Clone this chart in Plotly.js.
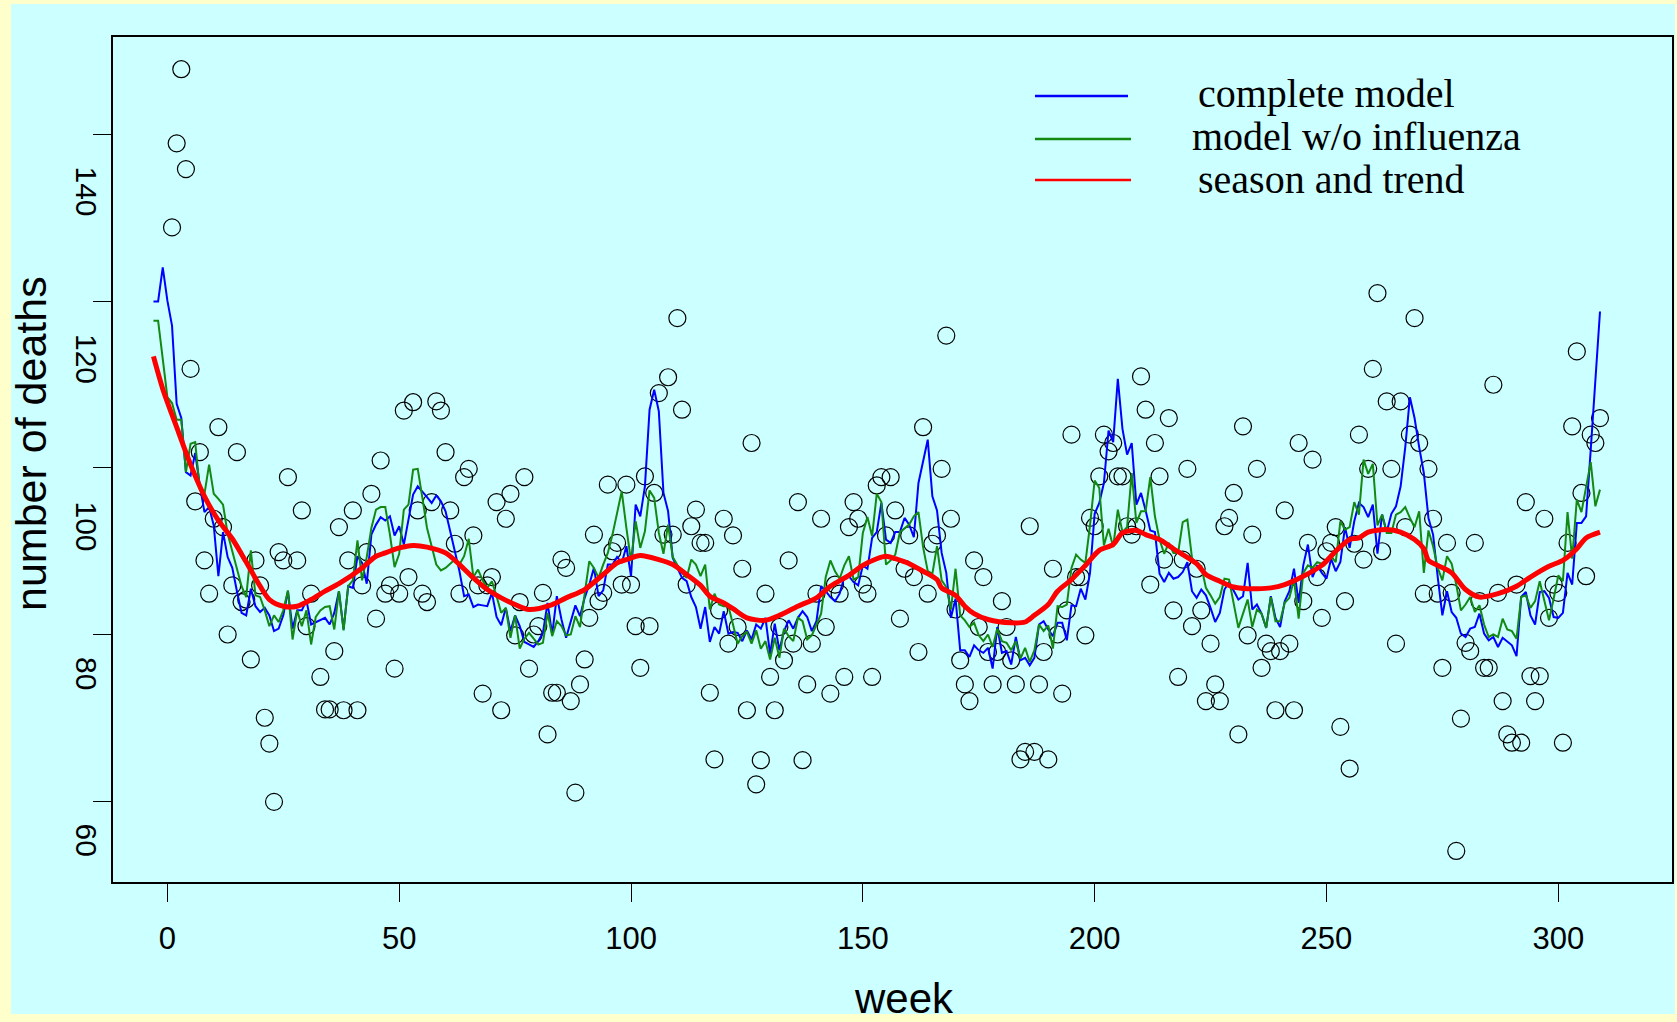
<!DOCTYPE html>
<html>
<head>
<meta charset="utf-8">
<script src="https://cdn.plot.ly/plotly-3.0.1.min.js"></script>
<style>html,body{margin:0;padding:0;background:#ffffcc;}</style>
</head>
<body>
<div id="chart" style="width:1677px;height:1022px;"></div>
<script>
// ---- data ----
// observed weekly deaths, weeks 1..309 (null = not visible)
const observed = [
128.9,139.0,147.9,135.9,111.9,96.0,101.9,88.9,84.9,93.9,
104.9,92.9,80.0,85.9,101.9,83.9,84.2,77.0,88.9,85.9,
70.0,66.9,59.9,89.9,88.9,98.9,null,88.9,94.9,81.0,
84.9,null,74.9,71.0,71.0,78.0,92.9,70.9,88.9,94.9,
70.9,85.9,89.9,96.9,81.9,100.9,84.9,85.9,75.9,84.9,
106.9,86.9,107.9,94.9,84.9,83.9,95.9,108.0,106.9,101.9,
94.9,90.9,84.9,98.9,99.9,91.9,85.9,72.9,85.9,86.9,
95.9,70.9,93.9,96.9,79.9,83.9,98.9,75.9,80.0,81.0,
85.0,68.0,73.0,73.0,89.0,88.0,72.0,61.0,74.0,77.0,
82.0,92.0,84.0,85.0,98.0,90.0,91.0,86.0,98.0,86.0,
81.0,76.0,99.0,81.0,97.0,109.0,92.0,110.9,92.0,118.0,
107.0,86.0,93.0,95.0,91.0,91.0,73.0,65.0,82.9,93.9,
78.9,91.9,80.9,87.9,70.9,103.0,62.0,64.9,84.9,74.9,
70.9,80.9,76.9,88.9,78.9,95.9,64.9,74.0,78.9,84.9,
93.9,80.9,72.9,86.0,84.9,74.9,92.9,95.9,93.9,86.0,
84.9,74.9,97.9,98.9,91.9,98.9,94.9,81.9,87.9,91.9,
86.9,77.9,104.9,84.9,90.9,91.9,99.9,115.9,93.9,83.0,
76.9,74.0,72.0,88.9,80.9,86.9,77.9,74.0,77.9,84.0,
80.9,76.9,74.0,65.0,65.9,93.0,65.9,74.0,77.9,65.0,
87.9,80.0,72.9,82.9,104.0,86.9,86.9,79.9,94.0,93.0,
99.0,104.0,102.0,103.0,99.0,99.0,93.0,92.0,93.0,111.0,
107.0,86.0,103.0,99.0,89.0,106.0,82.9,74.9,89.0,99.9,
81.0,87.9,82.9,72.0,78.9,74.0,72.0,93.0,94.0,97.0,
68.0,105.0,79.9,92.0,99.9,76.0,78.9,78.0,70.9,78.0,
94.9,78.9,70.9,103.0,84.0,91.0,101.0,86.9,82.0,90.0,
91.0,92.9,68.9,84.0,63.9,90.9,104.0,89.0,99.9,111.9,
121.0,90.0,108.0,99.9,78.9,108.0,92.9,104.0,118.0,103.0,
84.9,99.9,93.9,84.9,76.0,91.0,85.0,54.0,69.9,79.0,
78.0,91.0,84.0,76.0,76.0,110.0,85.0,72.0,68.0,67.0,
86.0,67.0,95.9,75.0,72.0,75.0,93.9,82.0,86.0,85.0,
67.0,91.0,105.0,114.0,97.0,87.0,104.0,103.0,106.0
];
const observedFirstWeek = 1;

// complete model, weeks -3..309
const completeModel = [
120.0,120.0,124.1,120.1,117.1,107.7,106.0,99.5,99.1,101.8,
97.9,94.7,95.3,93.1,87.0,92.3,89.3,88.0,85.2,82.6,
82.3,85.5,83.4,82.7,83.2,82.3,80.4,80.7,82.3,85.2,
80.7,82.9,82.9,84.1,81.2,81.5,81.7,82.0,81.2,82.6,
85.2,80.6,85.8,85.6,89.4,88.6,86.1,92.0,93.2,94.1,
93.7,94.2,91.9,93.0,90.8,93.6,96.8,97.8,97.2,96.5,
95.8,96.7,96.0,94.8,92.4,90.0,87.6,84.6,84.8,83.3,
83.6,83.5,83.4,85.0,82.1,81.1,83.2,80.4,82.3,81.0,
79.1,78.8,78.5,79.2,80.2,83.8,80.0,84.6,81.8,79.6,
81.4,83.5,82.2,84.4,86.0,88.0,84.6,85.3,88.4,88.4,
89.3,88.6,90.6,87.0,95.6,94.2,97.8,107.0,109.4,106.8,
97.0,94.8,89.2,88.0,86.8,86.4,84.5,83.3,80.7,83.3,
79.1,80.9,80.1,82.8,80.1,80.3,80.2,79.2,80.5,79.4,
81.2,80.7,82.0,77.6,81.3,78.1,80.4,81.7,80.7,82.0,
82.8,82.1,80.4,81.6,85.8,85.2,84.5,84.0,84.9,86.9,
87.0,86.3,85.9,88.3,87.9,91.6,92.3,95.8,91.4,91.0,
92.3,92.3,94.0,93.2,91.7,98.2,100.9,103.4,96.6,94.9,
89.8,87.4,82.0,84.3,78.1,78.1,77.3,78.7,78.1,77.8,
78.4,75.9,80.9,77.8,78.0,76.4,79.7,76.9,77.2,76.3,
77.2,81.2,81.6,80.6,79.8,81.4,81.4,79.3,83.5,83.4,
85.5,84.2,87.4,94.5,95.8,98.2,104.5,103.1,110.7,104.7,
101.6,103.0,95.6,97.0,94.9,92.5,92.3,87.3,86.3,87.4,
86.7,86.9,87.5,88.7,85.2,84.4,85.4,84.7,83.2,81.5,
82.6,85.4,86.3,85.2,84.2,84.6,88.6,83.0,83.6,82.5,
80.8,84.6,82.0,80.9,84.0,85.2,87.9,83.8,88.3,90.8,
86.9,88.3,87.4,86.7,89.1,87.6,88.7,92.9,90.4,93.6,
95.8,95.3,94.1,95.6,89.7,94.4,92.3,94.5,95.4,97.8,
102.5,108.5,106.0,102.5,99.4,94.0,92.0,86.9,82.3,85.2,
82.7,82.0,80.1,79.7,80.7,80.9,82.5,80.1,79.3,79.7,
78.5,79.6,79.2,78.7,77.4,84.5,85.1,82.3,81.2,85.1,
85.2,84.4,82.1,82.0,82.6,87.4,86.0,93.4,93.4,94.2,
102.2,110.5,118.8
];

// model without influenza, weeks -3..309
const noFluModel = [
117.7,117.7,113.1,108.5,107.8,105.8,105.8,99.5,102.9,103.1,
97.4,96.9,100.4,96.9,96.3,95.6,92.1,89.9,87.7,85.8,
84.5,90.1,84.7,84.5,82.9,81.0,82.3,81.5,82.9,85.3,
79.4,82.9,81.0,82.9,78.8,82.1,82.9,83.3,83.4,80.6,
85.2,80.5,85.8,86.5,91.3,86.5,89.3,92.8,95.0,95.3,
95.3,92.0,88.1,89.7,95.0,95.6,99.8,99.9,96.4,92.8,
90.6,88.4,87.7,88.0,88.5,89.0,88.4,89.4,91.5,86.9,
87.8,86.5,85.6,86.4,84.6,82.6,83.2,79.6,82.3,78.3,
79.5,80.2,79.5,78.8,79.0,82.6,79.8,81.6,81.0,79.9,
80.0,82.2,80.9,84.8,88.8,88.0,86.8,88.4,89.8,92.0,
94.4,97.2,92.8,88.8,93.6,90.4,92.4,97.3,96.4,92.2,
89.7,93.2,89.3,88.4,87.4,86.8,89.0,88.4,87.0,88.4,
83.0,84.9,83.6,83.4,83.4,81.2,78.9,79.8,80.3,78.9,
80.5,78.3,79.2,77.0,79.6,77.2,80.7,79.8,79.2,82.0,
81.6,79.4,79.9,81.2,82.5,86.9,88.9,87.6,86.7,88.3,
89.4,86.6,86.9,92.2,94.1,91.8,96.9,95.9,88.4,88.9,
89.6,92.3,92.7,93.2,94.2,94.7,90.5,87.6,87.3,90.6,
86.5,85.7,83.0,87.9,82.3,81.7,80.9,81.4,79.9,79.2,
80.0,78.5,80.7,79.2,79.0,78.1,79.2,77.1,78.4,76.7,
78.1,81.2,80.4,81.1,78.3,83.4,83.3,83.6,88.0,89.6,
89.0,88.6,93.1,98.5,97.6,90.7,92.7,90.5,95.0,92.3,
92.9,99.4,93.4,94.8,94.8,98.9,94.2,91.4,89.7,91.0,
89.8,89.8,93.5,93.8,89.2,88.3,88.2,85.6,84.7,83.7,
84.5,86.7,86.6,83.8,80.8,82.5,84.2,80.9,83.0,82.5,
80.8,84.5,81.6,81.6,83.8,84.4,86.6,81.9,87.4,88.3,
88.0,88.7,88.5,88.6,89.4,88.7,93.6,92.6,92.9,95.9,
94.4,101.0,99.3,100.5,93.1,94.4,92.2,92.2,94.4,94.7,
95.3,94.0,92.9,94.8,87.4,92.5,90.6,88.0,86.5,89.4,
88.5,86.0,82.9,83.6,84.5,82.7,83.5,81.2,79.7,80.0,
79.7,81.9,80.6,80.4,79.5,84.5,84.7,83.2,84.0,86.4,
83.9,81.7,84.3,87.1,86.4,94.7,89.1,96.2,94.7,97.6,
100.7,95.4,97.4
];
const modelFirstWeek = -3;

// season and trend (smooth curve), read at these weeks
const trendWeeks = [-3,-1,2,5,8,11,14,17,20,22,25,28,31,34,37,42,45,47,50,53,56,60,63,66,69,72,75,78,83,86,90,94,97,99,102,106,109,112,115,117,120,122,125,129,132,136,140,143,147,150,153,155,157,160,163,166,167,170,172,174,177,182,185,187,190,192,195,198,201,204,206,209,211,214,217,219,222,224,227,230,233,235,238,241,245,249,252,255,257,259,263,266,269,271,272,274,277,280,283,287,291,294,298,301,304,306,309];
const trendValues = [113.4,109.5,104.9,100.4,96.6,93.7,91.5,88.7,85.8,84.2,83.4,83.4,84.2,85.2,86.1,88.0,89.4,89.8,90.4,90.7,90.5,89.8,88.4,86.8,85.4,84.4,83.6,83.0,83.6,84.4,85.4,87.2,88.6,89.0,89.5,89.0,88.4,87.2,85.9,84.6,83.8,83.1,82.0,81.7,82.3,83.4,84.4,85.8,87.1,88.3,89.1,89.4,89.1,88.5,87.6,86.6,85.6,84.7,83.4,82.5,81.8,81.4,81.5,82.3,83.6,85.2,86.6,88.3,90.1,90.8,92.2,92.5,92.0,91.4,90.3,89.6,88.5,87.2,86.4,85.7,85.5,85.5,85.6,86.0,87.0,88.3,90.0,91.4,91.6,92.3,92.6,92.3,91.4,90.3,88.9,88.3,87.4,85.4,84.5,84.9,85.8,86.9,88.2,88.9,90.3,91.6,92.3];

const xTickVals = [0, 50, 100, 150, 200, 250, 300];
const yTickVals = [60, 80, 100, 120, 140];
const yTickLabels = ['60', '80', '100', '120', '140'];
const seriesNames = ['complete model', 'model w/o influenza', 'season and trend'];
const seriesColors = ['#0000ff', '#138913', '#ff0000'];
const xTitle = 'week';
const yTitle = 'number of deaths';

// ---- build ----
const observedWeeks = observed.map((_, i) => observedFirstWeek + i);
const modelWeeks = completeModel.map((_, i) => modelFirstWeek + i);

const traces = [
  {type:'scatter', mode:'markers', name:'observed', x:observedWeeks, y:observed,
   marker:{symbol:'circle-open', size:17, color:'#000000', line:{width:1.2, color:'#000000'}},
   hoverinfo:'x+y'},
  {type:'scatter', mode:'lines', name:seriesNames[0], x:modelWeeks, y:completeModel,
   line:{color:seriesColors[0], width:2}},
  {type:'scatter', mode:'lines', name:seriesNames[1], x:modelWeeks, y:noFluModel,
   line:{color:seriesColors[1], width:2}},
  {type:'scatter', mode:'lines', name:seriesNames[2], x:trendWeeks, y:trendValues,
   line:{color:seriesColors[2], width:5, shape:'spline', smoothing:0.8}}
];

const W = 1677, H = 1022, ML = 113, MR = 5, MT = 37, MB = 140;
const PW = W - ML - MR, PH = H - MT - MB;
const px = X => (X - ML) / PW;          // page pixel -> paper x
const py = Y => (H - MB - Y) / PH;      // page pixel -> paper y

const shapes = [
  {type:'rect', xref:'paper', yref:'paper', x0:px(11), x1:px(1675), y0:py(1014), y1:py(4),
   fillcolor:'#ccffff', line:{width:0}, layer:'below'}
];
const legendLineY = [96, 139, 180];
const legendTextY = [93, 135, 178];
const legendX1 = [1128, 1131, 1131];
const legendTextX = [1196, 1190, 1196];
const annotations = [];
seriesNames.forEach((nm, i) => {
  shapes.push({type:'line', xref:'paper', yref:'paper', x0:px(1035), x1:px(legendX1[i]),
    y0:py(legendLineY[i]), y1:py(legendLineY[i]), line:{color:seriesColors[i], width:2.5}});
  annotations.push({xref:'paper', yref:'paper', x:px(legendTextX[i]), y:py(legendTextY[i]),
    xanchor:'left', yanchor:'middle', yshift:-1, showarrow:false, text:nm,
    font:{family:'Liberation Serif, Times New Roman, serif', size:40, color:'#000'}});
});
// y tick labels (rotated, drawn below their tick as in the reference)
const yLabelShift = [39, 39, 58, 57, 56];
yTickVals.forEach((v, i) => {
  annotations.push({xref:'paper', yref:'y', x:px(86.5), y:v, yshift:-yLabelShift[i],
    xanchor:'center', yanchor:'middle', textangle:90, showarrow:false, text:yTickLabels[i],
    font:{family:'Liberation Sans, Arial, sans-serif', size:30, color:'#000'}});
});
// axis titles
annotations.push({xref:'paper', yref:'paper', x:px(31), y:py(444), xanchor:'center', yanchor:'middle',
  textangle:-90, showarrow:false, text:yTitle,
  font:{family:'Liberation Sans, Arial, sans-serif', size:43, color:'#000'}});
annotations.push({xref:'paper', yref:'paper', x:px(904), y:py(998), xanchor:'center', yanchor:'middle',
  showarrow:false, text:xTitle,
  font:{family:'Liberation Sans, Arial, sans-serif', size:42, color:'#000'}});

const layout = {
  width:W, height:H,
  margin:{l:ML, r:MR, t:MT, b:MB, pad:0},
  paper_bgcolor:'#ffffcc', plot_bgcolor:'#ccffff',
  showlegend:false,
  font:{family:'Liberation Sans, Arial, sans-serif', color:'#000'},
  xaxis:{range:[-11.73, 324.53], tickvals:xTickVals, ticks:'outside', ticklen:18, tickwidth:1,
    tickcolor:'#000', showline:true, mirror:true, linewidth:2, linecolor:'#000',
    showgrid:false, zeroline:false, automargin:false, ticklabelstandoff:10,
    tickfont:{family:'Liberation Sans, Arial, sans-serif', size:31, color:'#000'}},
  yaxis:{range:[50.27, 151.77], tickvals:yTickVals, ticks:'outside', ticklen:18, tickwidth:1,
    tickcolor:'#000', showline:true, mirror:true, linewidth:2, linecolor:'#000',
    showgrid:false, zeroline:false, automargin:false, showticklabels:false},
  shapes:shapes,
  annotations:annotations
};

Plotly.newPlot('chart', traces, layout, {displayModeBar:false, responsive:false});
</script>
</body>
</html>
